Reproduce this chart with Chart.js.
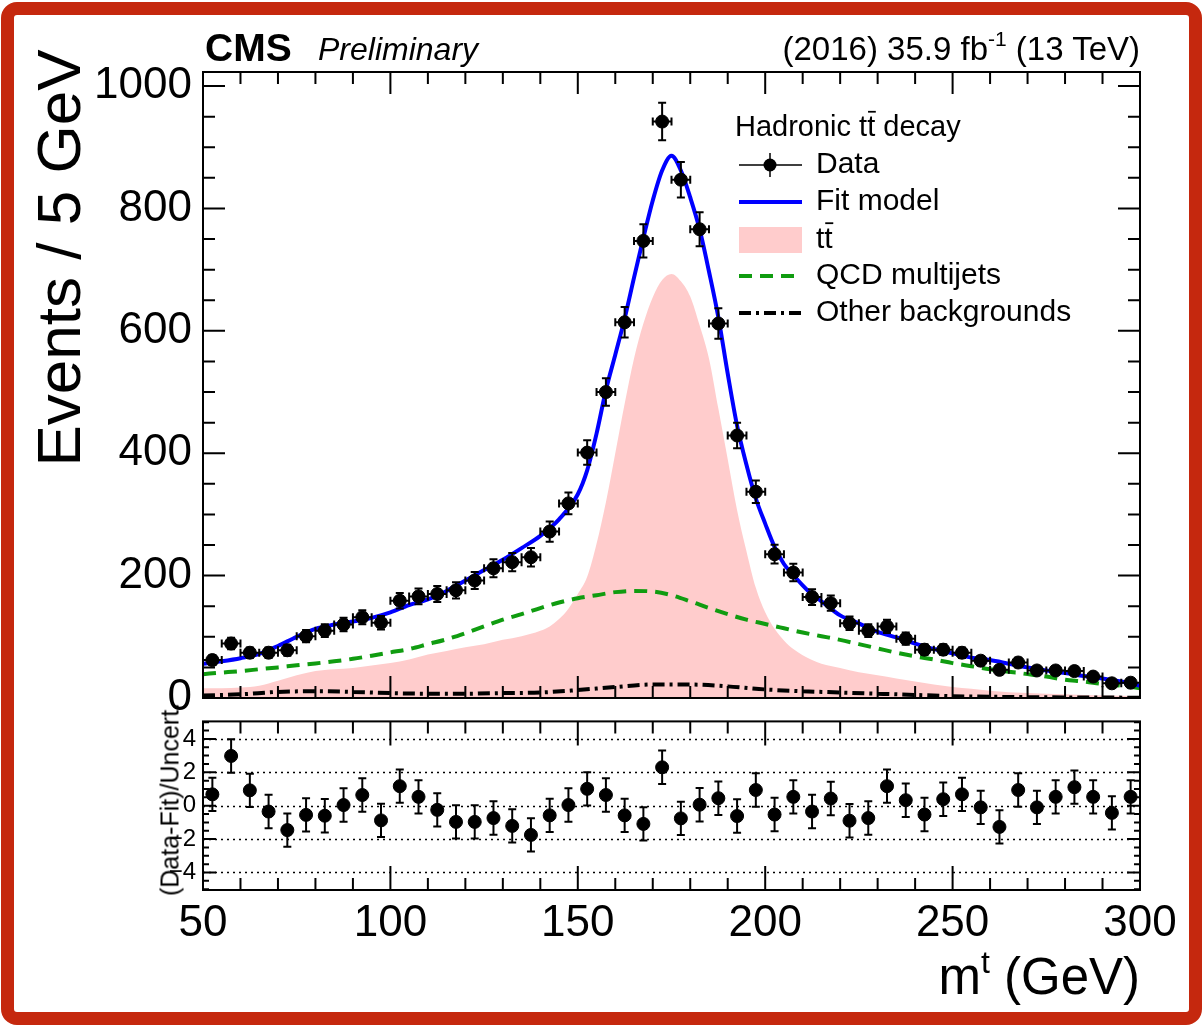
<!DOCTYPE html>
<html>
<head>
<meta charset="utf-8">
<script src="https://cdn.jsdelivr.net/npm/chart.js@4"></script>
<style>
html,body{margin:0;padding:0;background:#fff;}
#page{position:relative;width:1203px;height:1025px;overflow:hidden;font-family:"Liberation Sans",Arial,sans-serif;color:#000;background:#fff;}
#frame{position:absolute;left:1px;top:2px;right:1px;bottom:0;border:13px solid #c5280e;border-radius:16px;pointer-events:none;}
canvas{position:absolute;left:0;}
.t{position:absolute;white-space:nowrap;line-height:1;}
.rot{position:absolute;white-space:nowrap;text-align:center;transform:rotate(-90deg);}
.sup{position:relative;}
</style>
</head>
<body>
<div id="page">
  <canvas id="pullChart" style="top:700px" width="1203" height="325"></canvas>
  <canvas id="mainChart" style="top:0" width="1203" height="740"></canvas>

  <div class="t" style="left:205px;top:28px;font-size:39px;font-weight:bold">CMS</div>
  <div class="t" style="left:318px;top:33px;font-size:32px;font-style:italic">Preliminary</div>
  <div class="t" style="right:63px;top:32px;font-size:33px">(2016) 35.9 fb<span class="sup" style="font-size:21px;top:-14px">-1</span> (13 TeV)</div>

  <div class="rot" style="left:-191px;top:227px;width:500px;height:62px;font-size:62px;line-height:62px">Events / 5 GeV</div>
  <div class="rot" style="left:20px;top:787px;width:300px;height:25px;font-size:25px;line-height:25px">(Data-Fit)/Uncert.</div>
  <div class="t" style="right:63px;top:951px;font-size:51px">m<span class="sup" style="font-size:32px;top:-21px">t</span> (GeV)</div>

  <div id="frame"></div>
</div>
<script>
/* ---------- DATA ---------- */
const FONT='"Liberation Sans", Arial, sans-serif';

// bin centres (5 GeV bins from 50 to 300)
const binCenters=[52.5,57.5,62.5,67.5,72.5,77.5,82.5,87.5,92.5,97.5,
  102.5,107.5,112.5,117.5,122.5,127.5,132.5,137.5,142.5,147.5,
  152.5,157.5,162.5,167.5,172.5,177.5,182.5,187.5,192.5,197.5,
  202.5,207.5,212.5,217.5,222.5,227.5,232.5,237.5,242.5,247.5,
  252.5,257.5,262.5,267.5,272.5,277.5,282.5,287.5,292.5,297.5];
const dataCounts=[62,89,74,74,78,101,110,120,132,123,
  159,166,170,176,192,212,222,230,272,318,
  401,500,614,747,942,847,766,612,429,337,
  235,205,165,155,122,110,117,97,79,79,
  74,61,46,58,45,45,44,35,24,25];
const pulls=[0.68,2.98,0.92,-0.35,-1.46,-0.55,-0.6,0.04,0.64,-0.88,
  1.17,0.53,-0.25,-0.97,-0.97,-0.74,-1.21,-1.75,-0.58,0.04,
  1.01,0.64,-0.58,-1.09,2.3,-0.76,0.06,0.45,-0.62,0.94,
  -0.53,0.53,-0.35,0.43,-0.9,-0.74,1.17,0.33,-0.53,0.39,
  0.68,-0.1,-1.27,0.94,-0.1,0.53,1.11,0.53,-0.43,0.53];
const pullUncert=1;

// fit model
const fitX=[50,55,60,65,70,75,80,85,90,95,100,105,110,115,120,125,130,135,140,145,150,
  152.5,155,157.5,160,162.5,165,167.5,170,172.5,175,177.5,180,182.5,185,187.5,190,192.5,195,197.5,200,
  202.5,205,207.5,210,212.5,215,220,225,230,235,240,245,250,255,260,265,270,275,280,285,290,295,300];
const fitY=[56,60,65,72,85,100,113,120,125,131,140,152,161,175,192,209,226,245,265,292,333,
  372,432,503,561,620,687,752,813,862,886,862,818,766,697,622,530,445,381,326,285,
  247,219,201,184,169,158,135,122,108,99,89,80,73,66,62,56,50,45,41,36,32,27,20];

// ttbar component
const ttX=[50,55,60,65,70,75,80,85,90,95,100,105,110,115,120,125,130,135,140,
  142.5,145,147.5,150,152.5,155,157.5,160,162.5,165,167.5,170,172.5,175,177.5,180,182.5,185,187.5,190,
  192.5,195,197.5,200,202.5,205,207.5,210,212.5,215,220,225,230,235,240,245,250,255,260,270,280,290,300];
const ttY=[16,16,17,20,28,37,44,47,49,53,57,63,71,77,83,88,95,101,110,
  117,129,146,170,198,252,320,400,481,555,612,655,683,693,681,656,609,555,473,390,
  307,240,180,140,113,94,80,70,62,56,49,42,37,32,27,22,18,15,12,8,6,4,3];

// QCD multijet component
const qcdX=[50,55,60,65,70,75,80,85,90,95,100,105,110,115,120,125,130,135,140,145,150,
  155,160,165,170,175,180,185,190,195,200,205,210,215,220,225,230,235,240,245,250,
  255,260,265,270,275,280,285,290,295,300];
const qcdY=[39,41.5,44,47,50,53.5,56.5,60,64,69,74.5,80,88,96,106,117,128,137,147,156,163,
  168,173,175,174,168,158,147,137,128,121,114,107,101,95,88,81,74,68,63,57,
  52,47,43,39,35,30,27,23,20,16];

// other backgrounds
const otherX=[50,60,70,80,90,100,110,120,130,140,150,160,170,180,190,200,210,220,230,240,250,260,280,300];
const otherY=[4,6,10,11,10,8,7,7,8,9,13,18,22,22,19,14,11,9,7,5,3,2,1,0.5];

// axis ticks
const xTicks=[50,100,150,200,250,300];
const yTicks=[0,200,400,600,800,1000];
const pullTicks=[-4,-2,0,2,4];

/* ---------- HELPERS ---------- */
const pts=(xs,ys)=>xs.map((x,i)=>({x,y:ys[i]}));
const statErr=dataCounts.map(n=>Math.sqrt(n)); // Poisson stat. uncertainty

function errorBarPlugin(yErr,xHalf){return{id:"errBars",afterDatasetsDraw(chart){
  const {ctx,scales:{x,y}}=chart;const data=chart.data.datasets.find(d=>d.isData).data;
  ctx.save();ctx.strokeStyle="#000";ctx.lineWidth=2;ctx.beginPath();
  data.forEach((p,i)=>{const e=Array.isArray(yErr)?yErr[i]:yErr;
    const px=x.getPixelForValue(p.x),py=y.getPixelForValue(p.y);
    const top=y.getPixelForValue(p.y+e),bot=y.getPixelForValue(p.y-e);
    ctx.moveTo(px,top);ctx.lineTo(px,bot);
    ctx.moveTo(px-4,top);ctx.lineTo(px+4,top);ctx.moveTo(px-4,bot);ctx.lineTo(px+4,bot);
    if(xHalf){const l=x.getPixelForValue(p.x-xHalf),r=x.getPixelForValue(p.x+xHalf);
      ctx.moveTo(l,py);ctx.lineTo(r,py);ctx.moveTo(l,py-4);ctx.lineTo(l,py+4);ctx.moveTo(r,py-4);ctx.lineTo(r,py+4);}
  });
  ctx.stroke();ctx.restore();}};}

function frameTicks(cfg){return{id:"frameTicks",afterDraw(chart){
  const {ctx,chartArea:a,scales:{x,y}}=chart;
  ctx.save();ctx.strokeStyle="#000";ctx.lineWidth=2;ctx.beginPath();
  const nx=Math.round((x.max-x.min)/cfg.xStep);
  for(let i=0;i<=nx;i++){const v=x.min+i*cfg.xStep;const px=x.getPixelForValue(v);
    const L=(i%cfg.xEvery===0)?cfg.xLen[0]:cfg.xLen[1];
    ctx.moveTo(px,a.bottom);ctx.lineTo(px,a.bottom-L);ctx.moveTo(px,a.top);ctx.lineTo(px,a.top+L);}
  const y0=Math.ceil(y.min/cfg.yStep-1e-9);const y1=Math.floor(y.max/cfg.yStep+1e-9);
  for(let k=y0;k<=y1;k++){const v=k*cfg.yStep;const py=y.getPixelForValue(v);
    const L=(k%cfg.yEvery===0)?cfg.yLen[0]:cfg.yLen[1];
    ctx.moveTo(a.left,py);ctx.lineTo(a.left+L,py);ctx.moveTo(a.right,py);ctx.lineTo(a.right-L,py);}
  ctx.stroke();
  ctx.strokeRect(a.left,a.top,a.right-a.left,a.bottom-a.top);
  ctx.restore();}};}

const pullGrid={id:"pullGrid",beforeDatasetsDraw(chart){
  const {ctx,chartArea:a,scales:{y}}=chart;ctx.save();ctx.strokeStyle="#000";ctx.lineWidth=1.5;ctx.setLineDash([2,4]);
  ctx.beginPath();pullTicks.forEach(v=>{const py=Math.round(y.getPixelForValue(v))+0.5;ctx.moveTo(a.left,py);ctx.lineTo(a.right,py);});
  ctx.stroke();ctx.restore();}};

// text with an overline on one glyph (t-bar)
function barText(ctx,parts,x,y,size){let cx=x;
  parts.forEach(p=>{const s=typeof p==="string"?p:p.bar;const w=ctx.measureText(s).width;
    ctx.fillText(s,cx,y);
    if(typeof p!=="string"){ctx.save();ctx.lineWidth=Math.max(1.5,size*0.06);ctx.beginPath();
      const by=y-size*0.56;ctx.moveTo(cx+size*0.03,by);ctx.lineTo(cx+w+size*0.02,by);ctx.stroke();ctx.restore();}
    cx+=w;});}

const legendBox={id:"legendBox",afterDraw(chart){
  const ctx=chart.ctx;ctx.save();ctx.fillStyle="#000";ctx.strokeStyle="#000";ctx.textBaseline="middle";ctx.textAlign="left";
  ctx.font=`29px ${FONT}`;barText(ctx,["Hadronic t",{bar:"t"}," decay"],735,128,29);
  const x0=739,x1=802,tx=816,rows=[165,202,240,276,313];
  // Data
  ctx.lineWidth=1.5;ctx.beginPath();ctx.moveTo(x0,rows[0]);ctx.lineTo(x1,rows[0]);
  ctx.moveTo(770,rows[0]-12);ctx.lineTo(770,rows[0]+12);ctx.stroke();
  ctx.beginPath();ctx.arc(770,rows[0],6.5,0,Math.PI*2);ctx.fill();
  // Fit model
  ctx.strokeStyle="#0000ff";ctx.lineWidth=4;ctx.beginPath();ctx.moveTo(x0,rows[1]);ctx.lineTo(x1,rows[1]);ctx.stroke();
  // ttbar
  ctx.fillStyle="#ffcccc";ctx.fillRect(x0,rows[2]-13,x1-x0,26);
  // QCD
  ctx.strokeStyle="#109c10";ctx.setLineDash([13,8]);ctx.beginPath();ctx.moveTo(x0,rows[3]);ctx.lineTo(x1,rows[3]);ctx.stroke();
  // Other
  ctx.strokeStyle="#000";ctx.setLineDash([12,5,3,5]);ctx.beginPath();ctx.moveTo(x0,rows[4]);ctx.lineTo(x1,rows[4]);ctx.stroke();
  ctx.setLineDash([]);
  ctx.fillStyle="#000";ctx.strokeStyle="#000";ctx.font=`30px ${FONT}`;
  ctx.fillText("Data",tx,rows[0]);ctx.fillText("Fit model",tx,rows[1]);
  barText(ctx,["t",{bar:"t"}],tx,rows[2],30);
  ctx.fillText("QCD multijets",tx,rows[3]);ctx.fillText("Other backgrounds",tx,rows[4]);
  ctx.restore();}};

/* ---------- MAIN PANEL ---------- */
const curveDefaults={type:"line",pointRadius:0,cubicInterpolationMode:"monotone",fill:false};
new Chart(document.getElementById("mainChart"),{
  type:"scatter",
  data:{datasets:[
    {isData:true,label:"Data",data:pts(binCenters,dataCounts),pointRadius:6.5,backgroundColor:"#000",borderColor:"#000",order:0},
    {...curveDefaults,label:"Fit model",data:pts(fitX,fitY),borderColor:"#0000ff",borderWidth:4,order:1},
    {...curveDefaults,label:"Other backgrounds",data:pts(otherX,otherY),borderColor:"#000",borderWidth:4,borderDash:[12,5,3,5],order:2},
    {...curveDefaults,label:"QCD multijets",data:pts(qcdX,qcdY),borderColor:"#109c10",borderWidth:4,borderDash:[13,8],order:3},
    {...curveDefaults,label:"ttbar",data:pts(ttX,ttY),borderColor:"#ffcccc",borderWidth:0,backgroundColor:"#ffcccc",fill:"origin",order:4}
  ]},
  options:{responsive:false,animation:false,events:[],
    layout:{padding:{left:0,top:72,right:63,bottom:42}},
    plugins:{legend:{display:false},tooltip:{enabled:false}},
    scales:{
      x:{type:"linear",min:50,max:300,display:false},
      y:{type:"linear",min:0,max:1023,
        afterBuildTicks:s=>{s.ticks=yTicks.map(v=>({value:v}));},
        afterFit:s=>{s.width=203;},
        grid:{display:false,drawTicks:false},border:{display:false},
        ticks:{padding:11,color:"#000",font:{family:FONT,size:44},callback:v=>String(v)}}
    }},
  plugins:[errorBarPlugin(statErr,2.5),frameTicks({xStep:10,xEvery:5,xLen:[22,12],yStep:50,yEvery:4,yLen:[22,12]}),legendBox]
});

/* ---------- PULL PANEL ---------- */
new Chart(document.getElementById("pullChart"),{
  type:"scatter",
  data:{datasets:[{isData:true,label:"Pull",data:pts(binCenters,pulls),pointRadius:6.5,backgroundColor:"#000",borderColor:"#000"}]},
  options:{responsive:false,animation:false,events:[],
    layout:{padding:{left:0,top:17,right:63,bottom:0}},
    plugins:{legend:{display:false},tooltip:{enabled:false}},
    scales:{
      x:{type:"linear",min:50,max:300,
        afterBuildTicks:s=>{s.ticks=xTicks.map(v=>({value:v}));},
        afterFit:s=>{s.height=135;},
        grid:{display:false,drawTicks:false},border:{display:false},
        ticks:{padding:7,maxRotation:0,color:"#000",font:{family:FONT,size:44},callback:v=>String(v)}},
      y:{type:"linear",min:-5.05,max:5.05,
        afterBuildTicks:s=>{s.ticks=pullTicks.map(v=>({value:v}));},
        afterFit:s=>{s.width=203;},
        grid:{display:false,drawTicks:false},border:{display:false},
        ticks:{padding:7,color:"#000",font:{family:FONT,size:24},callback:v=>String(v).replace("-","\u2212")}}
    }},
  plugins:[pullGrid,errorBarPlugin(pullUncert,0),frameTicks({xStep:10,xEvery:5,xLen:[24,12],yStep:0.5,yEvery:4,yLen:[13,6]})]
});
</script>
</body>
</html>
